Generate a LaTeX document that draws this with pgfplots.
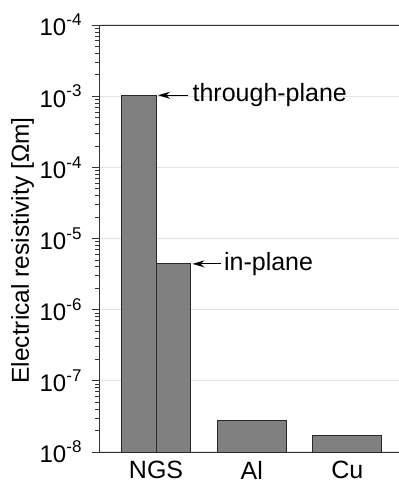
\documentclass[border=0pt]{standalone}
\usepackage{fontspec}
\setmainfont{Liberation Sans}
\usepackage{pgfplots}
\pgfplotsset{compat=1.18}
\usetikzlibrary{arrows.meta}
\definecolor{barfill}{RGB}{128,128,128}
\definecolor{baredge}{RGB}{40,40,40}
\definecolor{gridc}{RGB}{226,226,226}
\newcommand{\pw}[1]{10\raisebox{0.42em}{\fontsize{17}{17}\selectfont #1}}
\begin{document}
\begin{tikzpicture}[font=\fontsize{25}{29}\selectfont]
\begin{axis}[name=ax, scale only axis, width=299pt, height=427pt,
  ymode=log, ymin=1e-8, ymax=1e-2, log origin=infty,
  xmin=-0.586, xmax=2.54,
  axis x line*=box, axis y line*=left,
  axis line style={line width=1pt, black!80},
  xtick={0,1,2}, xticklabels={NGS,Al,Cu},
  major x tick style={draw=none},
  xticklabel style={yshift=2pt},
  ytick={1e-8,1e-7,1e-6,1e-5,1e-4,1e-3,1e-2},
  yticklabels={\pw{-8},\pw{-7},\pw{-6},\pw{-5},\pw{-4},\pw{-3},\pw{-4}},
  yticklabel style={xshift=-7pt, font=\fontsize{24}{28}\selectfont},
  minor ytick={2e-8,3e-8,4e-8,5e-8,6e-8,7e-8,8e-8,9e-8,
    2e-7,3e-7,4e-7,5e-7,6e-7,7e-7,8e-7,9e-7,
    2e-6,3e-6,4e-6,5e-6,6e-6,7e-6,8e-6,9e-6,
    2e-5,3e-5,4e-5,5e-5,6e-5,7e-5,8e-5,9e-5,
    2e-4,3e-4,4e-4,5e-4,6e-4,7e-4,8e-4,9e-4,
    2e-3,3e-3,4e-3,5e-3,6e-3,7e-3,8e-3,9e-3},
  tick align=outside,
  major tick length=8pt, minor tick length=5pt,
  every tick/.style={black!80, line width=0.8pt},
  ymajorgrids, major grid style={gridc, line width=1.2pt},
  ylabel={Electrical resistivity [Ωm]},
  ylabel style={at={(axis description cs:-0.2375,0.472)}, anchor=base, rotate=0, font=\fontsize{24.5}{28}\selectfont},
  clip=false,
]
\addplot[ybar, bar width=0.36, bar shift=0pt, fill=barfill, draw=baredge, line width=1pt] coordinates {(-0.18,1.03e-3)};
\addplot[ybar, bar width=0.36, bar shift=0pt, fill=barfill, draw=baredge, line width=1pt] coordinates {(0.18,4.4e-6)};
\addplot[ybar, bar width=0.72, bar shift=0pt, fill=barfill, draw=baredge, line width=1pt] coordinates {(1,2.8e-8) (2,1.68e-8)};
\draw[{Stealth[length=12pt,width=7pt]}-, line width=1.2pt] ([xshift=2pt]axis cs:0,1.03e-3) -- ++(30pt,0pt) node[right, inner sep=4pt]{through-plane};
\draw[{Stealth[length=12pt,width=7pt]}-, line width=1.2pt] ([xshift=2pt]axis cs:0.36,4.4e-6) -- ++(29pt,0pt) node[right, inner sep=2pt]{in-plane};
\end{axis}
\pgfresetboundingbox
\path ([xshift=-100pt,yshift=-33pt]ax.south west) rectangle ([yshift=25pt]ax.north east);
\end{tikzpicture}
\end{document}
